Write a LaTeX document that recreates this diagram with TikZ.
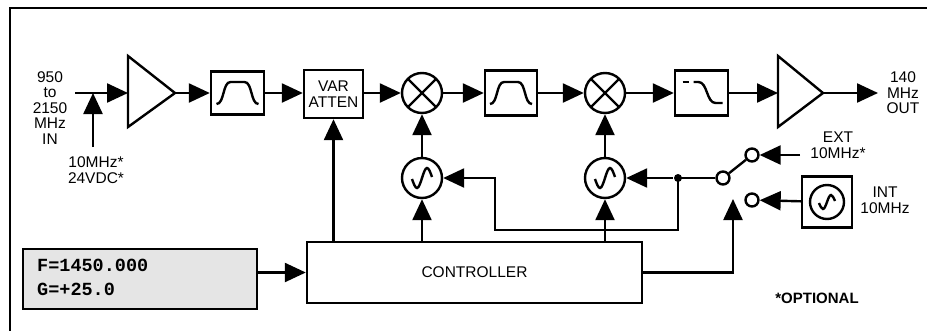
\documentclass[tikz,border=0pt]{standalone}
\usepackage{fontspec}
\setmainfont{Liberation Sans}
\newfontfamily\lcdfont{Liberation Mono}
\usetikzlibrary{arrows.meta,calc}
\begin{document}
\begin{tikzpicture}[x=1pt,y=-1pt,line width=2.4pt,
 lab/.style={font=\fontsize{15.5}{15.5}\selectfont, align=center, inner sep=0pt},
 arr/.style={-{Triangle[length=21pt,width=19pt]}},
 blk/.style={draw, rectangle, inner sep=0pt},
 circ/.style={draw, circle, minimum size=40pt, inner sep=0pt},
 term/.style={draw, circle, fill=white, minimum size=13pt, inner sep=0pt},
 lcdtxt/.style={font=\lcdfont\bfseries\fontsize{18.5}{18.5}\selectfont, inner sep=0pt, anchor=west}
]
\useasboundingbox (0,0) rectangle (927,330);
% frame
\draw (10,331) -- (10,8) -- (930,8);

% input
\node[lab] (inlab) at (50,108) {950\\to\\2150\\MHz\\IN};
\coordinate (inp) at (75,93);
\coordinate (j10) at (93,93);
\coordinate (ref10) at (93,147);
\node[lab] (reflab) at (96,170) {10MHz*\\24VDC*};

% amplifier 1
\draw (128,56) -- (128,127) -- (175,93) -- cycle;
\coordinate (a1i) at (128,93);
\coordinate (a1o) at (175,93);

% blocks on main line
\node[blk, minimum width=53pt, minimum height=43pt] (bpf1) at (237.5,93) {};
\node[blk, lab, minimum width=59pt, minimum height=48pt] (att) at (333.5,94) {VAR\\ATTEN};
\node[circ] (mx1) at (422,93) {};
\node[blk, minimum width=52pt, minimum height=45pt] (bpf2) at (511,93) {};
\node[circ] (mx2) at (605,93) {};
\node[blk, minimum width=53pt, minimum height=45pt] (lpf) at (701.5,93) {};

% amplifier 2
\draw (778,56) -- (778,127) -- (823,93) -- cycle;
\coordinate (a2i) at (778,93);
\coordinate (a2o) at (823,93);
\coordinate (out) at (878,93);
\node[lab] (outlab) at (903,93) {140\\MHz\\OUT};

% mixer crosses
\foreach \m in {mx1,mx2}{
  \draw ($(\m.center)+(45:20)$) -- ($(\m.center)+(225:20)$);
  \draw ($(\m.center)+(135:20)$) -- ($(\m.center)+(315:20)$);
}
% bandpass symbols
\foreach \f in {bpf1,bpf2}{
  \begin{scope}[shift={(\f.center)}]
    \draw (-21,11) .. controls (-13,11) and (-15,-11) .. (-7,-11) -- (7,-11)
          .. controls (15,-11) and (13,11) .. (21,11);
  \end{scope}
}
% lowpass symbol
\begin{scope}[shift={(lpf.center)}]
  \draw (-19,-11) -- (-13,-11);
  \draw (-8,-11) -- (-3,-11) .. controls (6,-11) and (5,10) .. (14,10) -- (21,10);
\end{scope}

% oscillators
\node[circ] (osc1) at (422,178) {};
\node[circ] (osc2) at (605,178) {};
\foreach \o in {osc1,osc2}{
  \begin{scope}[shift={(\o.center)}]
    \draw (-10,1) sin (-5,10) cos (0,0) sin (5,-10) cos (10,-1);
  \end{scope}
}

% switch
\node[circle, fill, inner sep=0pt, minimum size=8pt] (dot) at (678,178) {};
\node[term] (swc) at (723,178) {};
\node[term] (swu) at (752,155) {};
\node[term] (swl) at (752,200) {};
\coordinate (extin) at (800,155);
\node[lab] (extlab) at (838,145) {EXT\\10MHz*};
\node[blk, minimum width=50pt, minimum height=51pt] (intosc) at (827,202) {};
\node[draw, circle, minimum size=34pt, inner sep=0pt] (intc) at (827,202) {};
\begin{scope}[shift={(intc.center)}]
  \draw (-8,1) sin (-4,7) cos (0,0) sin (4,-7) cos (8,-1);
\end{scope}
\node[lab] (intlab) at (885,200) {INT\\10MHz};

% controller and display
\node[blk, lab, minimum width=335pt, minimum height=61pt] (ctrl) at (474.5,272.5) {CONTROLLER};
\node[blk, fill=gray!20, minimum width=234pt, minimum height=60pt] (lcd) at (140,279) {};
\node[lcdtxt] (lcd1) at (36,265) {F=1450.000};
\node[lcdtxt] (lcd2) at (36,289) {G=+25.0};
\node[font=\bfseries\fontsize{15}{15}\selectfont, inner sep=0pt] (opt) at (817,298) {*OPTIONAL};

\coordinate (swctl) at (733,199);
\coordinate (bend) at (495,230);

% connectors
\draw[arr] (inp) -- (a1i);
\draw[arr] (ref10) -- (j10);
\draw[arr] (a1o) -- (bpf1);
\draw[arr] (bpf1) -- (att.west |- bpf1);
\draw[arr] (att.east |- mx1) -- (mx1);
\draw[arr] (mx1) -- (bpf2);
\draw[arr] (bpf2) -- (mx2);
\draw[arr] (mx2) -- (lpf);
\draw[arr] (lpf) -- (a2i);
\draw[arr] (a2o) -- (out);
\draw[arr] (osc1) -- (mx1);
\draw[arr] (osc2) -- (mx2);
\draw[arr] (ctrl.north -| att) -- (att);
\draw[arr] (ctrl.north -| osc1) -- (osc1);
\draw[arr] (ctrl.north -| osc2) -- (osc2);
\draw[arr] (lcd.east |- ctrl.west) -- (ctrl.west);
\draw[arr] (ctrl.east) -| (swctl);
\draw (swc) -- (dot.center);
\draw[arr] (dot) -- (osc2);
\draw[arr] (dot.center) |- (bend) -- (bend |- osc1) -- (osc1);
\draw (swc) -- (swu);
\draw[arr] (extin) -- (swu);
\draw[arr] (intosc) -- (swl);
\end{tikzpicture}
\end{document}
